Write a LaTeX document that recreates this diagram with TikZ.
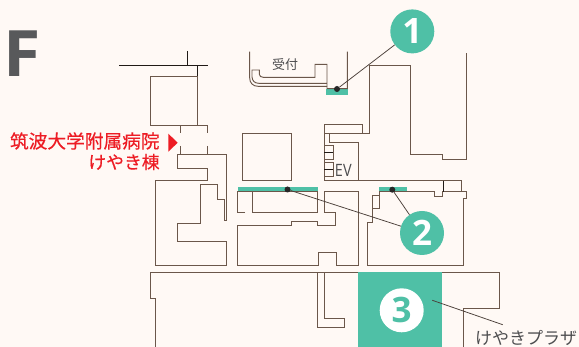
\documentclass[tikz,border=0pt]{standalone}
\usepackage{fontspec}
\setmainfont{Open Sans}
\newfontfamily\jp{Noto Sans CJK JP}
\newfontfamily\jpb[FakeBold=0.35]{Noto Sans CJK JP}
\definecolor{bg}{HTML}{FFF9F5}
\definecolor{wall}{HTML}{6B574A}
\definecolor{leader}{HTML}{4A3F39}
\definecolor{teal}{HTML}{4FC0A6}
\definecolor{hospred}{HTML}{ED1C24}
\definecolor{txt}{HTML}{4D4D4F}
\definecolor{fgrey}{HTML}{58595B}
\tikzset{
  wallline/.style={draw=wall,line width=0.95pt,line join=miter},
  darkline/.style={draw=black!70!wall,line width=0.9pt},
  leaderline/.style={draw=leader,line width=0.75pt},
  numcircle/.style={circle,fill=teal,minimum size=44pt,inner sep=0pt,text=white,font=\fontsize{35}{35}\selectfont\bfseries},
  bluedot/.style={circle,fill=black!85,minimum size=6pt,inner sep=0pt},
  bar/.style={fill=teal,draw=none},
  jplabel/.style={font=\jp\fontsize{13}{13}\selectfont,text=txt,inner sep=0pt},
  redlabel/.style={text=hospred,inner sep=0pt,anchor=east},
}
\begin{document}
\begin{tikzpicture}[x=1pt,y=-1pt]
\useasboundingbox (0,0) rectangle (579,347);
\fill[bg] (0,0) rectangle (579,347);
% green areas
\fill[bar] (358,272.3) rectangle (442,347);
\fill[bar] (238,187) rectangle (318,192);
\fill[bar] (379,187) rectangle (407,192.5);
\fill[bar] (326,89) rectangle (348,95);
% top-left
\draw[darkline] (119,65.5) -- (208,65.5);
\draw[darkline] (187.5,51) -- (187.5,65.5);
\draw[darkline] (197.5,65.5) -- (197.5,76.5);
\draw[wallline] (150,76.5) -- (197.5,76.5) -- (197.5,125.2) -- (150,125.2) -- cycle;
\draw[wallline] (180.5,133) -- (180.5,125.2) -- (207.5,125.2) -- (207.5,133);
\draw[wallline] (180.5,146) -- (180.5,154.5);
\draw[wallline] (207.5,146) -- (207.5,154.5);
% left building
\draw[wallline] (226.4,220) -- (226.4,154.5) -- (177,154.5) -- (177,168.2) -- (207.6,168.2) -- (207.6,180.8) -- (155,180.8) -- (155,265.3) -- (226.3,265.3) -- (226.3,241.4) -- (177,241.4) -- (177,223.8) -- (200.8,223.8) -- (200.8,184.4) -- (217.7,184.4) -- (217.7,199.4) -- (224.4,199.4) -- (224.4,220) -- cycle;
% square
\draw[wallline] (242,133.7) rectangle (291.4,180.8);
% rooms under bar
\draw[wallline] (245,212.3) -- (237.4,212.3) -- (237.4,191.5) -- (317.7,191.5) -- (317.7,212.3) -- (252,212.3) -- (252,191.5);
% central block
\draw[wallline] (324.4,191.3) -- (358.7,191.3) -- (358.7,265.3) -- (336,265.3) -- (336,252) -- (318.3,252) -- (318.3,265.3) -- (237.4,265.3) -- (237.4,225) -- (291.3,225) -- (291.3,221.5) -- (317.3,221.5) -- (317.3,225) -- (335.3,225) -- (335.3,212) -- (324.4,212) -- cycle;
% right building
\draw[wallline] (358.7,180.7) -- (358.7,142.6) -- (329.4,142.6) -- (329.4,133.7);
\draw[wallline] (324.4,133.7) -- (369,133.7) -- (369,65.7) -- (410.7,65.7) -- (410.7,154.4) -- (442.4,154.4) -- (442.4,159.7) -- (466.8,159.7) -- (466.8,53.3);
\draw[wallline] (362.5,133.7) -- (362.5,124.3) -- (324.4,124.3) -- (324.4,180.7) -- (461.8,180.7) -- (461.8,191.7) -- (466.7,191.7) -- (466.7,198.3) -- (463.3,198.3) -- (463.3,265.3) -- (367.3,265.3) -- (367.3,222.8) -- (372,222.8) -- (372,208.3) -- (379.3,208.3) -- (379.3,191.7) -- (434,191.7) -- (434,196) -- (442.8,196) -- (442.8,191.7) -- (461.8,191.7);
\draw[wallline] (372,208.3) -- (372,195.7) -- (379.3,195.7);
\draw[darkline] (443.2,180.7) -- (443.2,191.7);
% EV cabins
\draw[wallline] (324.4,145.4) -- (333.7,145.4) -- (333.7,159) -- (324.4,159);
\draw[darkline] (324.4,152.3) -- (333.3,152.3);
\draw[wallline] (324.4,162.7) -- (333.7,162.7) -- (333.7,176) -- (324.4,176);
\draw[darkline] (324.4,169.3) -- (333.3,169.3);
% reception
\draw[wallline] (249.7,51.7) -- (249.7,78) .. controls (249.7,83) and (253,86.3) .. (258,86.3) -- (327,86.3);
\draw[wallline] (327,83.3) -- (258.7,83.3) .. controls (254.7,83.3) and (252,80.7) .. (252,76.7) -- (252,70) -- (259.3,70) -- (259.3,74.3) .. controls (259.3,76.3) and (261.3,77.3) .. (263.3,77.3) -- (315,77.3) -- (315,64.3) -- (327,64.3) -- (327,88.7) -- (347.3,88.7) -- (347.3,51.7);
% bottom building
\draw[wallline] (358,272.3) -- (150,272.3) -- (150,298.7) -- (155,298.7) -- (155,347);
\draw[wallline] (317.7,272.3) -- (317.7,327.3) -- (344.7,327.3) -- (344.7,318.7) -- (324.7,318.7) -- (324.7,272.3);
\draw[wallline] (442,272.3) -- (499,272.3) -- (499,308) -- (463.7,308) -- (463.7,347);
% texts
\node[inner sep=0pt,anchor=base west,text=fgrey,font=\fontsize{64}{64}\selectfont\bfseries,xscale=1.06,transform shape] (ftitle) at (3.2,76.3) {F};
\node[jplabel] (uketsuke) at (285,65) {受付};
\node[inner sep=0pt,text=txt,anchor=base west,font=\fontsize{17}{17}\selectfont,xscale=0.85,transform shape] (ev) at (334.8,176.7) {EV};
\node[redlabel,font=\jpb\fontsize{18.7}{18.7}\selectfont] (hosp1) at (159.8,141) {筑波大学附属病院};
\node[redlabel,font=\jpb\fontsize{17.8}{17.8}\selectfont] (hosp2) at (159.8,162) {けやき棟};
\fill[hospred] (168.3,133.7) -- (168.3,151.7) -- (177.7,142.7) -- cycle;
\node[jplabel,font=\jp\fontsize{17}{17}\selectfont,anchor=west] (plaza) at (475,338.4) {けやきプラザ};
% markers and leaders
\node[bluedot] (d1) at (337,89) {};
\node[bluedot] (d2a) at (287.5,189.5) {};
\node[bluedot] (d2b) at (392.3,189.7) {};
\node[numcircle] (c1) at (412.3,31.4) {1};
\node[numcircle] (c2) at (422,233) {2};
\node[numcircle,fill=white,text=teal] (c3) at (401.7,310.3) {3};
\coordinate (p3a) at (432.3,300.3);
\coordinate (p3b) at (502.7,324.7);
\draw[leaderline] (d1) -- (c1);
\draw[leaderline] (d2a) -- (c2);
\draw[leaderline] (d2b) -- (c2);
\draw[leaderline] (p3a) -- (p3b);
\end{tikzpicture}
\end{document}
